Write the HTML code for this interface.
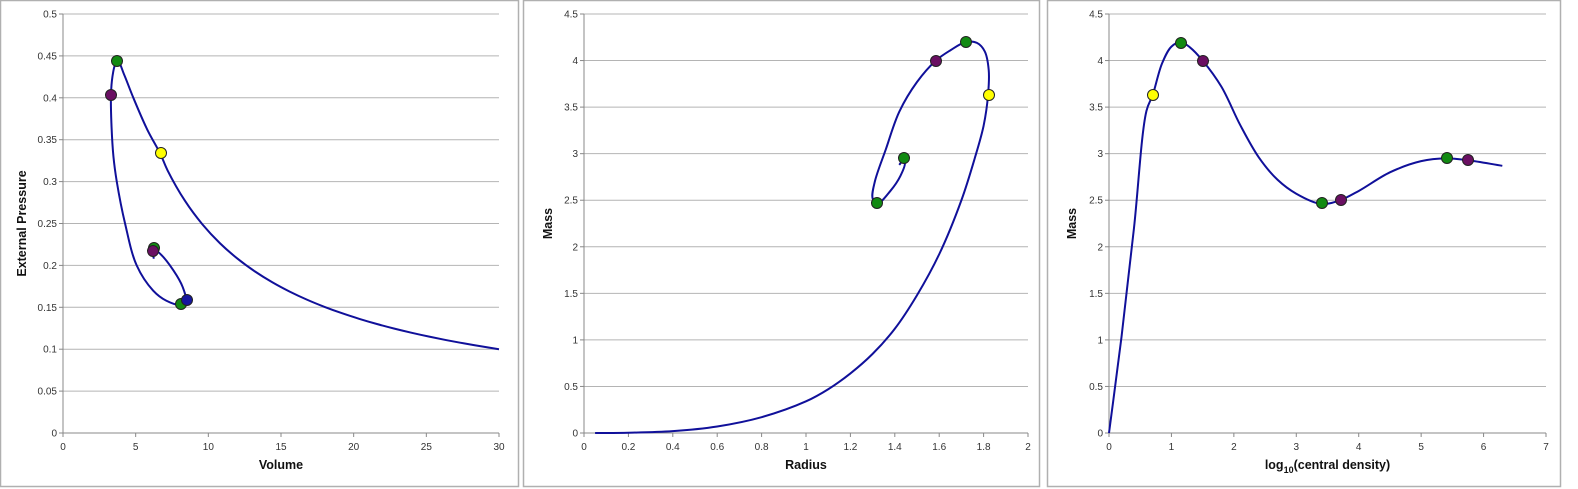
<!DOCTYPE html>
<html><head><meta charset="utf-8"><style>
html,body{margin:0;padding:0;background:#fff;}
svg{display:block;font-family:"Liberation Sans",sans-serif;}
</style></head><body>
<svg id="s" width="1578" height="489" xmlns="http://www.w3.org/2000/svg"></svg>
<script>
const s=document.getElementById('s');let h='';
function panel(fx,fw,L,R,T,B,ny,ylab,nx,xlab,ytitle,xtitle,ytx){
  h+=`<rect x="${fx+0.5}" y="0.5" width="${fw}" height="486" fill="#fff" stroke="#b0b0b0" stroke-width="1.5"/>`;
  for(let i=0;i<=ny;i++){const y=B-(B-T)*i/ny;
    h+=`<line x1="${L}" x2="${R}" y1="${y}" y2="${y}" stroke="${i==0?'#888':'#b4b4b4'}" stroke-width="1"/>`;
    h+=`<line x1="${L-4}" x2="${L}" y1="${y}" y2="${y}" stroke="#888"/>`;
    h+=`<text x="${L-6}" y="${y+3.5}" font-size="10" fill="#333" text-anchor="end">${ylab(i)}</text>`;}
  h+=`<line x1="${L}" x2="${L}" y1="${T}" y2="${B}" stroke="#888"/>`;
  for(let i=0;i<=nx;i++){const x=L+(R-L)*i/nx;
    h+=`<line x1="${x}" x2="${x}" y1="${B}" y2="${B+4}" stroke="#888"/>`;
    h+=`<text x="${x}" y="${B+17}" font-size="10" fill="#333" text-anchor="middle">${xlab(i)}</text>`;}
  h+=`<text transform="translate(${ytx},${(T+B)/2}) rotate(-90)" font-size="12.5" font-weight="bold" fill="#111" text-anchor="middle">${ytitle}</text>`;
  h+=`<text x="${(L+R)/2}" y="${B+36}" font-size="12.5" font-weight="bold" fill="#111" text-anchor="middle">${xtitle}</text>`;
}
function cr(p){
  // centripetal catmull-rom
  let d=`M${p[0][0].toFixed(2)},${p[0][1].toFixed(2)}`;
  for(let i=0;i<p.length-1;i++){const p0=p[Math.max(0,i-1)],p1=p[i],p2=p[i+1],p3=p[Math.min(p.length-1,i+2)];
    const dist=(a,b)=>Math.max(1e-3,Math.sqrt(Math.hypot(a[0]-b[0],a[1]-b[1])));
    const d1=dist(p0,p1),d2=dist(p1,p2),d3=dist(p2,p3);
    const c1=[],c2=[];
    for(let k=0;k<2;k++){
      const m1=(p1[k]-p0[k])/d1-(p2[k]-p0[k])/(d1+d2)+(p2[k]-p1[k])/d2;
      const m2=(p2[k]-p1[k])/d2-(p3[k]-p1[k])/(d2+d3)+(p3[k]-p2[k])/d3;
      c1[k]=p1[k]+(i==0?(p2[k]-p1[k])/3:m1*d2/3);
      c2[k]=p2[k]-(i==p.length-2?(p2[k]-p1[k])/3:m2*d2/3);
    }
    d+=` C${c1[0].toFixed(2)},${c1[1].toFixed(2)} ${c2[0].toFixed(2)},${c2[1].toFixed(2)} ${p2[0].toFixed(2)},${p2[1].toFixed(2)}`;}
  h+=`<path d="${d}" fill="none" stroke="#10109a" stroke-width="2"/>`;}
const C={g:'#128a12',p:'#6a0f62',y:'#ffff00',b:'#15159e'};
function dots(a){a.forEach(d=>h+=`<circle cx="${d[0]}" cy="${d[1]}" r="5.5" fill="${C[d[2]]}" stroke="#222" stroke-width="1"/>`);}
panel(0,518,63,499,14,433,10,i=>i==0?'0':(i*0.05).toFixed(2).replace(/0$/,''),6,i=>i*5,'External Pressure','Volume',26);
panel(523,516,584,1028,14,433,9,i=>i*0.5,10,i=>i==0?'0':(i==5?'1':i==10?'2':(i*0.2).toFixed(1)),'Mass','Radius',552);
panel(1047,513,1109,1546,14,433,9,i=>i*0.5,7,i=>i,'Mass','log<tspan font-size="9" dy="4">10</tspan><tspan dy="-4">(central density)</tspan>',1076);
// panel 1
const m1=(V,P)=>[63+V*14.533,433-P*838];
let p1=[];
for(let V=30;V>6.75;V-=1.2) p1.push(m1(V,0.1*Math.pow(30/V,0.8)));
[[6.7,0.333],[5.8,0.362],[4.84,0.40],[4.2,0.428],[3.8,0.443],[3.6,0.44],[3.4,0.425],[3.3,0.403],[3.33,0.37],[3.47,0.33],[3.7,0.3],[4.27,0.25],[5.07,0.2],[6.2,0.17],[7.1,0.158],[8.1,0.153],[8.45,0.157],[8.24,0.174],[7.6,0.194],[6.68,0.214],[6.35,0.218],[6.2,0.214],[6.25,0.208]].forEach(a=>p1.push(m1(a[0],a[1])));
cr(p1);
// panel 2
const m2=(R,M)=>[584+R*222,433-M*93.1];
cr([[0.05,0],[0.2,0.003],[0.4,0.02],[0.6,0.07],[0.8,0.17],[1.0,0.34],[1.1,0.47],[1.2,0.64],[1.3,0.85],[1.4,1.12],[1.5,1.48],[1.6,1.92],[1.7,2.5],[1.76,2.95],[1.8,3.3],[1.82,3.63],[1.823,3.9],[1.805,4.1],[1.77,4.19],[1.72,4.2],[1.65,4.11],[1.585,4.0],[1.5,3.77],[1.42,3.45],[1.36,3.05],[1.31,2.7],[1.3,2.52],[1.32,2.46],[1.38,2.6],[1.425,2.76],[1.445,2.9],[1.435,2.92],[1.42,2.88]].map(a=>m2(a[0],a[1])));
// panel 3
const m3=(r,M)=>[1109+r*62.43,433-M*93.1];
cr([[0,0],[0.2,1.03],[0.4,2.2],[0.6,3.46],[0.7,3.63],[0.85,3.97],[1.0,4.15],[1.15,4.2],[1.3,4.14],[1.5,4.0],[1.8,3.72],[2.1,3.31],[2.4,2.96],[2.7,2.72],[3.0,2.57],[3.4,2.46],[3.7,2.5],[4.0,2.6],[4.5,2.8],[5.0,2.92],[5.4,2.95],[5.75,2.93],[6.3,2.87]].map(a=>m3(a[0],a[1])));
dots([[117,61,'g'],[111,95,'p'],[161,153,'y'],[154,248,'g'],[153,251,'p'],[181,304,'g'],[187,300,'b']]);
dots([[966,42,'g'],[936,61,'p'],[989,95,'y'],[904,158,'g'],[877,203,'g']]);
dots([[1153,95,'y'],[1181,43,'g'],[1203,61,'p'],[1322,203,'g'],[1341,200,'p'],[1447,158,'g'],[1468,160,'p']]);
s.innerHTML=h;
</script>
</body></html>
